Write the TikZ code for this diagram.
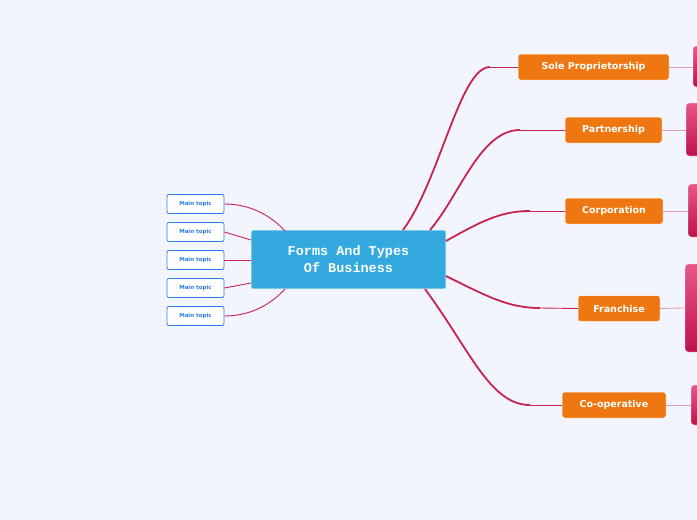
\documentclass[tikz,border=0pt]{standalone}
\usepackage{fontspec}
\setmainfont{DejaVu Sans}
\newfontfamily\monob{Liberation Mono}
\definecolor{bg}{HTML}{F2F5FE}
\definecolor{rootc}{HTML}{33A9E0}
\definecolor{orng}{HTML}{EE7711}
\definecolor{lnk}{HTML}{C8244E}
\definecolor{blu}{HTML}{2B7DE9}
\definecolor{pkt}{HTML}{E8578A}
\definecolor{pkb}{HTML}{BE124A}
\definecolor{pkl}{HTML}{E29AB2}
\begin{document}
\begin{tikzpicture}[x=1pt,y=-1pt,
  topic/.style={draw=blu,line width=0.8pt,fill=white,rounded corners=2pt,minimum width=57pt,minimum height=19pt,inner sep=0pt,font=\fontsize{5.5}{6}\selectfont\bfseries,text=blu},
  sub/.style={fill=orng,draw=white,line width=0.5pt,rounded corners=2.5pt,inner sep=0pt,minimum height=26pt,font=\fontsize{9.5}{10}\selectfont\bfseries,text=white},
  lk/.style={draw=lnk,line width=0.9pt},
  lkt/.style={draw=lnk,line width=1.8pt},
  pk/.style={top color=pkt,bottom color=pkb,draw=white,rounded corners=3pt},
  pl/.style={draw=pkl,line width=0.8pt}]
\fill[bg] (0,0) rectangle (697,520);
\clip (0,0) rectangle (697,520);
\node[fill=rootc,draw=white,line width=0.6pt,rounded corners=2pt,minimum width=195pt,minimum height=59pt,align=center,text=white,font=\monob\fontsize{13.5}{17}\selectfont\bfseries] (root) at (348.5,259.5) {Forms And Types\\Of Business};
\foreach \i/\y in {1/204,2/232,3/260,4/288,5/316}{\node[topic] (t\i) at (195.5,\y) {Main topic};}
\draw[lk] (t1.east) .. controls (255,204) and (275,220) .. (285,231);
\draw[lk] (t2.east) -- (251,240);
\draw[lk] (t3.east) -- (251,260);
\draw[lk] (t4.east) -- (251,283);
\draw[lk] (t5.east) .. controls (255,316) and (275,300) .. (285,289);
\node[sub,minimum width=151pt] (s1) at (593.5,67) {Sole Proprietorship};
\node[sub,minimum width=97pt] (s2) at (613.5,130) {Partnership};
\node[sub,minimum width=98pt] (s3) at (614,211) {Corporation};
\node[sub,minimum width=82pt] (s4) at (619,308.5) {Franchise};
\node[sub,minimum width=104pt] (s5) at (614,405) {Co-operative};
\draw[lkt] (403,230) .. controls (440,180) and (460,67) .. (490,67);
\draw[lk] (490,67) -- (s1.west);
\draw[lkt] (430,230) .. controls (460,195) and (480,130) .. (520,130);
\draw[lk] (520,130) -- (s2.west);
\draw[lkt] (446,241) .. controls (480,222) and (500,211) .. (530,211);
\draw[lk] (530,211) -- (s3.west);
\draw[lkt] (446,276) .. controls (490,298) and (510,308) .. (540,308);
\draw[lk] (540,308) -- (s4.west);
\draw[lkt] (425,289) .. controls (470,350) and (490,405) .. (530,405);
\draw[lk] (530,405) -- (s5.west);
\draw[pk] (693,46) rectangle (720,87);
\draw[pk] (686,103) rectangle (720,156);
\draw[pk] (688,184) rectangle (720,237);
\draw[pk] (685,264) rectangle (720,352);
\draw[pk] (691,385) rectangle (720,425);
\draw[pl] (s1.east) -- (693,67);
\draw[pl] (s2.east) -- (686,130);
\draw[pl] (s3.east) -- (688,211);
\draw[pl] (s4.east) -- (685,308);
\draw[pl] (s5.east) -- (691,405);
\end{tikzpicture}
\end{document}
